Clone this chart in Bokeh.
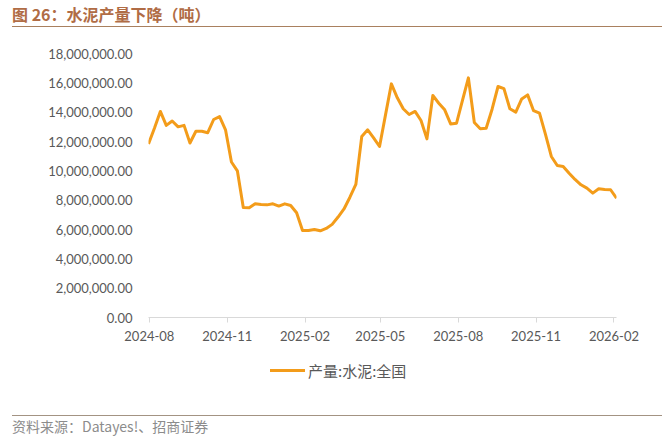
import pandas as pd
from bokeh.plotting import figure
from bokeh.layouts import column
from bokeh.models import (Range1d, FixedTicker, DatetimeTickFormatter, NumeralTickFormatter,
                          ColumnDataSource, Div)
from bokeh.embed import file_html
from bokeh.resources import INLINE

# ---------------- data ----------------
title_text = "图 26：水泥产量下降（吨）"
source_text = "资料来源：Datayes!、招商证券"
series_name = "产量:水泥:全国"

start_date = "2024-07-31"   # weekly observations
values = [
    11840000, 12900000, 14050000, 13100000, 13400000, 13000000, 13100000, 11900000,
    12700000, 12700000, 12600000, 13500000, 13700000, 12800000, 10600000, 10000000,
    7500000, 7480000, 7750000, 7700000, 7680000, 7750000, 7600000, 7750000,
    7640000, 7140000, 5930000, 5930000, 6000000, 5910000, 6070000, 6350000,
    6850000, 7400000, 8200000, 9070000, 12340000, 12800000, 12250000, 11660000,
    13800000, 15930000, 14980000, 14230000, 13840000, 14050000, 13430000, 12180000,
    15140000, 14610000, 14160000, 13200000, 13250000, 14800000, 16340000, 13300000,
    12870000, 12900000, 14200000, 15750000, 15600000, 14230000, 14000000, 14900000,
    15180000, 14100000, 13930000, 12500000, 10980000, 10360000, 10300000, 9840000,
    9410000, 9050000, 8820000, 8480000, 8780000, 8730000, 8710000, 8130000,
]
x_tick_labels = ["2024-08", "2024-11", "2025-02", "2025-05", "2025-08", "2025-11", "2026-02"]
y_ticks = [0, 2000000, 4000000, 6000000, 8000000, 10000000, 12000000, 14000000, 16000000, 18000000]

dates = pd.date_range(start_date, periods=len(values), freq="7D")
src = ColumnDataSource(data=dict(date=dates, value=values))

def ms(ts):
    return pd.Timestamp(ts).value / 1e6

x_ticks = [ms(t + "-01") for t in x_tick_labels]
line_color = "#F39C1A"

# ---------------- figure ----------------
p = figure(width=662, height=330, x_axis_type="datetime",
           x_range=Range1d(ms(dates[0]), ms(dates[-1])),
           y_range=Range1d(y_ticks[0], y_ticks[-1]),
           output_backend="svg", toolbar_location=None,
           min_border_left=148, min_border_right=46,
           min_border_top=26, min_border_bottom=40)
p.outline_line_color = None
p.xgrid.visible = False
p.ygrid.visible = False
p.background_fill_color = "white"
p.border_fill_color = "white"

p.line("date", "value", source=src, line_color=line_color, line_width=3, line_join="round")

# y axis
p.yaxis.ticker = FixedTicker(ticks=y_ticks)
p.yaxis.formatter = NumeralTickFormatter(format="0,0.00")
p.yaxis.axis_line_color = None
p.yaxis.major_tick_line_color = None
p.yaxis.minor_tick_line_color = None
p.yaxis.major_label_standoff = 10
p.yaxis.major_label_text_font = "Lato"
p.yaxis.major_label_text_font_size = "13px"
p.yaxis.major_label_text_color = "#595959"

# x axis
p.xaxis.ticker = FixedTicker(ticks=x_ticks)
p.xaxis.formatter = DatetimeTickFormatter(days="%Y-%m", months="%Y-%m", years="%Y-%m")
p.xaxis.axis_line_color = "#D9D9D9"
p.xaxis.major_tick_line_color = "#D9D9D9"
p.xaxis.major_tick_out = 5
p.xaxis.major_tick_in = 0
p.xaxis.minor_tick_line_color = None
p.xaxis.major_label_standoff = 8
p.xaxis.major_label_text_font = "Lato"
p.xaxis.major_label_text_font_size = "13px"
p.xaxis.major_label_text_color = "#595959"

# ---------------- page elements ----------------
title_div = Div(text=title_text, width=650, height=27, margin=(0, 0, 0, 12),
                styles={"font-family": "Noto Sans CJK SC", "font-weight": "bold",
                        "font-size": "16px", "color": "#B06C45", "line-height": "25px",
                        "padding-top": "2px", "box-sizing": "border-box",
                        "border-bottom": "1.5px solid #A9805F", "white-space": "nowrap"})

legend_html = (f'<span style="display:inline-block;width:35px;height:3px;background:{line_color};'
               f'vertical-align:middle;margin-left:270px"></span>'
               f'<span style="margin-left:3px;vertical-align:middle">{series_name}</span>')
legend_div = Div(text=legend_html, width=662, height=58, margin=0,
                 styles={"font-family": "Noto Sans CJK SC", "font-size": "15px",
                         "color": "#595959", "line-height": "24px", "white-space": "nowrap"})

source_div = Div(text=source_text, width=650, height=25, margin=(0, 0, 0, 12),
                 styles={"font-family": "Noto Sans CJK SC", "font-size": "14px",
                         "color": "#8C8C8C", "line-height": "18px", "padding-top": "1px",
                         "box-sizing": "border-box", "border-top": "1.5px solid #A39383",
                         "white-space": "nowrap"})

layout = column(title_div, p, legend_div, source_div, spacing=0)

open("out.html", "w").write(file_html(layout, INLINE))
